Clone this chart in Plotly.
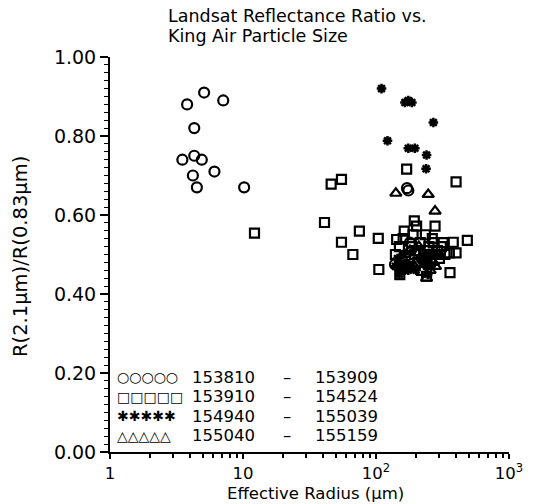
import plotly.graph_objects as go

# ---- data ----
series_names = ["153810 – 153909", "153910 – 154524", "154940 – 155039", "155040 – 155159"]
legend_first = ["153810", "153910", "154940", "155040"]
legend_second = ["153909", "154524", "155039", "155159"]
legend_glyphs = ["○○○○○", "□□□□□", "✱✱✱✱✱", "△△△△△"]

# circles: 153810 - 153909
x_circ = [5.1, 3.8, 7.1, 4.3, 4.3, 3.5, 4.9, 4.2, 6.1, 4.5, 10.2, 175, 171, 139, 180, 220, 250]
y_circ = [0.91, 0.88, 0.89, 0.82, 0.75, 0.74, 0.74, 0.70, 0.71, 0.67, 0.67, 0.662, 0.668, 0.475, 0.53, 0.49, 0.50]

# squares: 153910 - 154524
x_sq = [12.2, 46, 55, 41, 55, 67, 75, 104, 105, 143, 151, 163, 170, 194, 202, 278, 356, 400, 360,
        381, 400, 486, 240, 150, 160, 185, 200, 215, 230, 250, 270, 290, 310, 330, 140, 205,
        260, 220, 180, 300, 155, 265, 235, 190, 320, 210, 245, 280, 195]
y_sq = [0.554, 0.678, 0.690, 0.581, 0.531, 0.500, 0.559, 0.541, 0.462, 0.538, 0.449, 0.559, 0.716,
        0.585, 0.572, 0.572, 0.504, 0.504, 0.454, 0.531, 0.684, 0.536, 0.445, 0.52, 0.54, 0.52,
        0.51, 0.53, 0.50, 0.52, 0.53, 0.51, 0.52, 0.50, 0.50, 0.48, 0.49, 0.46, 0.47, 0.49,
        0.47, 0.54, 0.55, 0.55, 0.53, 0.50, 0.51, 0.50, 0.50]

# stars: 154940 - 155039
x_star = [110, 165, 175, 186, 270, 122, 175, 196, 240, 238, 145, 155, 165, 150, 170, 160,
          175, 185, 200, 235, 250, 260, 245, 265, 225, 140]
y_star = [0.92, 0.885, 0.89, 0.885, 0.834, 0.788, 0.769, 0.769, 0.752, 0.717, 0.49, 0.47,
          0.46, 0.45, 0.48, 0.50, 0.46, 0.47, 0.46, 0.50, 0.48, 0.47, 0.45, 0.50, 0.48, 0.47]

# triangles: 155040 - 155159
x_tri = [141, 247, 278, 150, 165, 195, 230, 255, 270, 280, 240, 210, 180, 300, 250]
y_tri = [0.655, 0.652, 0.610, 0.48, 0.50, 0.47, 0.49, 0.46, 0.48, 0.47, 0.44, 0.52, 0.51, 0.50, 0.47]

x_tickvals = [1, 10, 100, 1000]
x_ticktext = ["1", "10", "10<sup>2</sup>", "10<sup>3</sup>"]
x_minor = [2, 3, 4, 5, 6, 7, 8, 9, 20, 30, 40, 50, 60, 70, 80, 90, 200, 300, 400, 500, 600, 700, 800, 900]

FONT = "DejaVu Sans"
BLACK = "black"

fig = go.Figure()
fig.add_trace(go.Scatter(x=x_sq, y=y_sq, mode="markers", name=series_names[1], showlegend=False,
                         marker=dict(symbol="square-open", size=9, color=BLACK, line=dict(width=2.2, color=BLACK))))
fig.add_trace(go.Scatter(x=x_circ, y=y_circ, mode="markers", name=series_names[0], showlegend=False,
                         marker=dict(symbol="circle-open", size=10, color=BLACK, line=dict(width=2.2, color=BLACK))))
fig.add_trace(go.Scatter(x=x_tri, y=y_tri, mode="markers", name=series_names[3], showlegend=False,
                         marker=dict(symbol="triangle-up-open", size=10, color=BLACK, line=dict(width=2.2, color=BLACK))))
fig.add_trace(go.Scatter(x=x_star, y=y_star, mode="markers", name=series_names[2], showlegend=False,
                         marker=dict(symbol="asterisk-open", size=8, color=BLACK, line=dict(width=2.5, color=BLACK))))

W, H = 536, 504
PL, PR, PT, PB = 110, 509, 57, 452          # plot area edges in pixels
L, R, T, B = PL, W - PR, PT, H - PB
pw = PR - PL
ph = PB - PT


def px_x(px):
    return (px - PL) / pw


def px_y(py):
    return (PB - py) / ph


def note(text, x, y, size, xanchor="left", angle=0):
    return dict(text=text, x=px_x(x), y=px_y(y), xref="paper", yref="paper",
                xanchor=xanchor, yanchor="middle", showarrow=False, textangle=angle,
                font=dict(family=FONT, size=size, color=BLACK))


annotations = [
    note("Landsat Reflectance Ratio vs.", 166, 16, 17.5),
    note("King Air Particle Size", 166, 36.5, 17.5),
    note("Effective Radius (μm)", 315, 494, 16.5, xanchor="center"),
    note("R(2.1μm)/R(0.83μm)", 20, 257, 19.5, xanchor="center", angle=-90),
]

# legend rows
row_y = [377, 396.5, 416, 435.5]
for i in range(4):
    annotations.append(note(legend_glyphs[i], 115, row_y[i], 14))
    annotations.append(note(legend_first[i], 190, row_y[i], 16.5))
    annotations.append(note("–", 287, row_y[i], 16.5, xanchor="center"))
    annotations.append(note(legend_second[i], 313, row_y[i], 16.5))

fig.update_layout(
    width=W, height=H,
    margin=dict(l=L, r=R, t=T, b=B),
    paper_bgcolor="white", plot_bgcolor="white",
    font=dict(family=FONT, size=17, color=BLACK),
    annotations=annotations,
    showlegend=False,
)
fig.update_xaxes(
    type="log", range=[0, 3], automargin=False,
    tickvals=x_tickvals, ticktext=x_ticktext,
    ticks="outside", ticklen=5, tickwidth=1.5, tickcolor=BLACK,
    minor=dict(tickvals=x_minor, ticks="outside", ticklen=4, tickwidth=1.5, tickcolor=BLACK, showgrid=False),
    showline=True, linecolor=BLACK, linewidth=2, showgrid=False, zeroline=False,
    tickfont=dict(family=FONT, size=16.5, color=BLACK),
)
fig.update_yaxes(
    range=[0, 1], dtick=0.2, tickformat=".2f", automargin=False,
    ticks="outside", ticklen=8, tickwidth=1.5, tickcolor=BLACK,
    minor=dict(dtick=0.02, ticks="outside", ticklen=4, tickwidth=1.2, tickcolor=BLACK, showgrid=False),
    showline=True, linecolor=BLACK, linewidth=2, showgrid=False, zeroline=False,
    tickfont=dict(family=FONT, size=19, color=BLACK),
)

fig.write_html(
    "out.html",
    config={"displayModeBar": False},
    post_script="document.body.style.margin='0';document.body.style.overflow='hidden';",
)
